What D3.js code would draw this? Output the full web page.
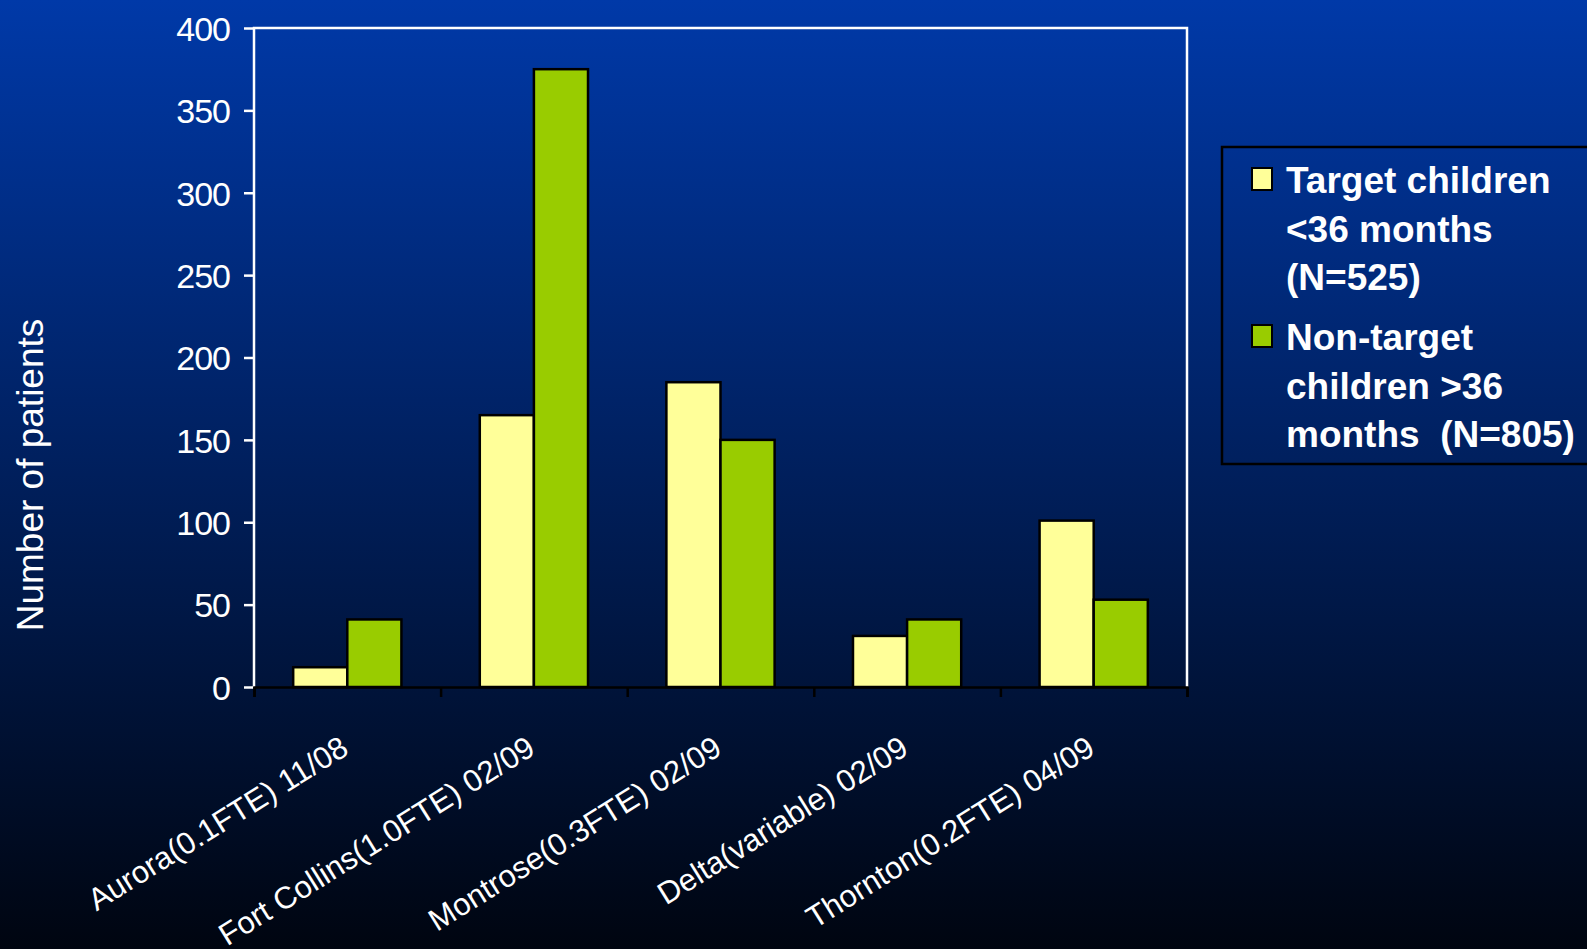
<!DOCTYPE html>
<html>
<head>
<meta charset="utf-8">
<style>
  body { margin: 0; background: #000; }
  text { font-family: "Liberation Sans", Arial, sans-serif; }
</style>
</head>
<body>
<script src="https://d3js.org/d3.v7.min.js"></script>
<svg id="chart" width="1587" height="949"></svg>
<script>
// data
var categories = ["Aurora(0.1FTE) 11/08", "Fort Collins(1.0FTE) 02/09", "Montrose(0.3FTE) 02/09",
                  "Delta(variable) 02/09", "Thornton(0.2FTE) 04/09"];
var targetValues = [12, 165, 185, 31, 101];
var nonTargetValues = [41, 375, 150, 41, 53];
var seriesNames = ["Target children <36 months (N=525)", "Non-target children >36 months  (N=805)"];
var legendLines = [["Target children", "<36 months", "(N=525)"],
                   ["Non-target", "children >36", "months  (N=805)"]];
var yTicks = [0, 50, 100, 150, 200, 250, 300, 350, 400];
var colors = ["#ffff99", "#99cc00"];

var svg = d3.select("#chart");
var W = 1587, H = 949;
var plotL = 254, plotR = 1187, plotT = 28, plotB = 687;

// background gradient
var defs = svg.append("defs");
var grad = defs.append("linearGradient").attr("id", "bg")
    .attr("x1", 0).attr("y1", 0).attr("x2", 0).attr("y2", 1);
grad.append("stop").attr("offset", "0%").attr("stop-color", "#0039a8");
grad.append("stop").attr("offset", "100%").attr("stop-color", "#000510");
svg.append("rect").attr("width", W).attr("height", H).attr("fill", "url(#bg)");

var x0 = d3.scaleBand().domain(categories).range([plotL, plotR])
    .paddingInner(0.42).paddingOuter(0.21);
var x1 = d3.scaleBand().domain([0, 1]).range([0, x0.bandwidth()]);
var y = d3.scaleLinear().domain([0, 400]).range([plotB, plotT]);

var data = categories.map(function(c, i) {
    return { cat: c, vals: [targetValues[i], nonTargetValues[i]] };
});

// bars
var groups = svg.append("g").selectAll("g").data(data).enter().append("g")
    .attr("transform", d => "translate(" + x0(d.cat) + ",0)");
groups.selectAll("rect").data(d => d.vals.map((v, k) => ({ k: k, v: v })))
    .enter().append("rect")
    .attr("x", d => x1(d.k))
    .attr("y", d => y(d.v))
    .attr("width", x1.bandwidth())
    .attr("height", d => y(0) - y(d.v))
    .attr("fill", d => colors[d.k])
    .attr("stroke", "#000")
    .attr("stroke-width", 2.5);

// white frame: left, top, right
svg.append("path")
    .attr("d", "M" + plotL + "," + plotB + "V" + plotT + "H" + plotR + "V" + plotB)
    .attr("fill", "none").attr("stroke", "#fff").attr("stroke-width", 2.5);

// y axis
var yAxis = svg.append("g").attr("transform", "translate(" + plotL + ",0)")
    .call(d3.axisLeft(y).tickValues(yTicks).tickSize(10).tickPadding(14));
yAxis.select(".domain").remove();
yAxis.selectAll("line").attr("stroke", "#fff").attr("stroke-width", 2.5);
yAxis.selectAll("text").attr("fill", "#fff").style("font-size", "34px")
    .style("letter-spacing", "-1px").attr("dy", "0.36em");

// x axis (category boundaries)
var xb = d3.scaleLinear().domain([0, categories.length]).range([plotL, plotR]);
var xAxis = svg.append("g").attr("transform", "translate(0," + plotB + ")")
    .call(d3.axisBottom(xb).ticks(categories.length).tickSize(10).tickFormat(""));
xAxis.select(".domain").attr("stroke", "#000").attr("stroke-width", 2.5);
xAxis.selectAll("line").attr("stroke", "#000").attr("stroke-width", 2.5);

// category labels
svg.append("g").selectAll("text").data(categories).enter().append("text")
    .attr("transform", d => "translate(" + (x0(d) + x0.bandwidth() / 2 + 3) + "," + (plotB + 66) + ") rotate(-32)")
    .attr("text-anchor", "end")
    .attr("fill", "#fff")
    .style("font-size", "31px")
    .text(d => d);

// y title
svg.append("text")
    .attr("transform", "translate(43,475) rotate(-90)")
    .attr("text-anchor", "middle")
    .attr("fill", "#fff")
    .style("font-size", "37px")
    .text("Number of patients");

// legend
var lg = svg.append("g");
lg.append("rect").attr("x", 1222).attr("y", 147).attr("width", 400).attr("height", 317)
    .attr("fill", "none").attr("stroke", "#000").attr("stroke-width", 2.5);
var entryY = [168, 325];
var baseY = [193, 350];
seriesNames.forEach(function(name, k) {
    lg.append("rect").attr("x", 1252).attr("y", entryY[k]).attr("width", 20).attr("height", 22)
        .attr("fill", colors[k]).attr("stroke", "#000").attr("stroke-width", 2);
    var t = lg.append("text").attr("fill", "#fff").style("font-size", "37px")
        .style("font-weight", "bold").attr("y", baseY[k]);
    legendLines[k].forEach(function(line, j) {
        t.append("tspan").attr("x", 1286).attr("dy", j === 0 ? 0 : 48.5)
            .attr("xml:space", "preserve").text(line);
    });
});
</script>
</body>
</html>
